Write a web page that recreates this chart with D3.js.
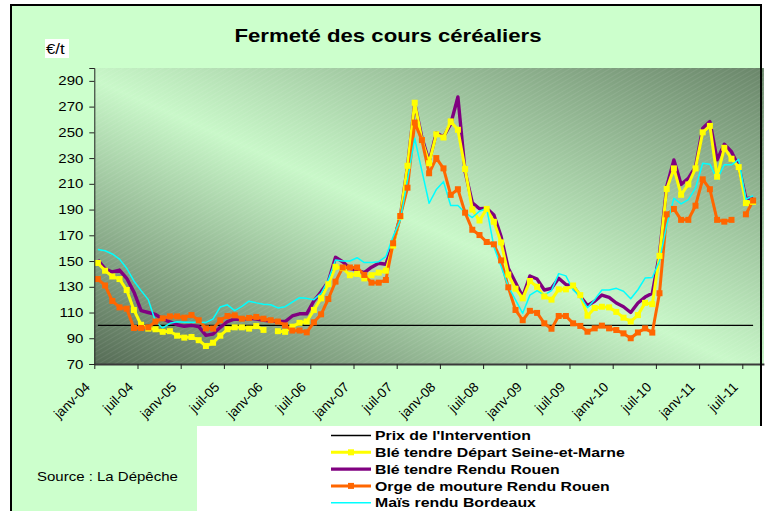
<!DOCTYPE html>
<html>
<head>
<meta charset="utf-8">
<script src="https://cdn.jsdelivr.net/npm/d3@7"></script>
<style>
    body { margin: 0; background: #fff; }
    svg { display: block; font-family: "Liberation Sans", Arial, sans-serif; }
</style>
</head>
<body>
<div id="chart"></div>
<script>
// monthly categories, janv-04 .. sept-11
const monthNames = ["janv", "févr", "mars", "avr", "mai", "juin", "juil", "août", "sept", "oct", "nov", "déc"];
const years = ["04", "05", "06", "07", "08", "09", "10", "11"];
const months = [];
years.forEach(y => monthNames.forEach(m => months.push(m + "-" + y)));
months.splice(93);

const tickLabels = ["janv-04", "juil-04", "janv-05", "juil-05", "janv-06", "juil-06", "janv-07", "juil-07",
    "janv-08", "juil-08", "janv-09", "juil-09", "janv-10", "juil-10", "janv-11", "juil-11"];

const yTicks = [70, 90, 110, 130, 150, 170, 190, 210, 230, 250, 270, 290];

const interventionPrice = 100;

const bleSeineMarne = [148.5, 142.5, 138, 136, 127.5, 112, 100.5, 97.5, 97, 95,
    95.5, 92, 90.5, 91, 88.5, 84, 86.5, 92, 97, 98.5,
    98.5, 97.5, 99.5, 96.5, null, 95.5, 95, 99, 102, 103,
    112, 121, 132, 145.5, 144.5, 139, 140, 136.5, 139, 141,
    142.5, 162, 184.5, 224, 273, 244, 226, 248.5, 246, 258.5,
    252, 221.5, 190, 181.5, 190.5, 180.5, 164.5, 139.5, 128.5, 121,
    134.5, 130, 122.5, 120, 128, 128, 131, 123.5, 107.5, 113.5,
    114.5, 114, 110.5, 106, 103, 108, 117.5, 116.5, 154, 206,
    222, 201.5, 209.5, 222, 250, 255, 215.5, 238, 229.5, 223,
    195, 196];

const bleRouen = [150.8, 144, 141.5, 143, 136.6, 126, 111.4, 110, 108.5, 105,
    102.7, 100.5, 99.3, 100, 99, 92.3, 93.3, 98.5, 103, 105,
    104.7, 105.5, 105, 104, 103.3, 103, 103, 107.3, 109, 109,
    119, 126.2, 134, 152.9, 149.5, 144.4, 142.8, 141, 145.2, 148.3,
    147.5, 163.8, 184.5, 223.4, 272.3, 246, 227.2, 249.5, 246.5, 256.5,
    277.5, 219.5, 195.3, 190.6, 191, 185.8, 169, 144.3, 133.3, 122.3,
    138.4, 136, 127.5, 128.8, 136.6, 131.7, 130.8, 122.6, 115.5, 118.8,
    123.6, 121.8, 117.4, 114.5, 110, 117.4, 122, 125, 155.3, 207.8,
    228.6, 209.5, 214.3, 223.2, 253.2, 258.4, 228.6, 240.8, 235, 223.5,
    198.5, 199.3];

const orgeRouen = [136, 131, 119, 114, 113, 98, 98, 98.5, 103, 105.5,
    107, 107, 106, 108, 104, 97.7, 97.5, 104, 107.3, 107.8,
    105.2, 105.8, 106.6, 105.2, 104, 103, 100, 96, 96, 94.6,
    102.4, 108.6, 120.5, 134, 145, 145, 145, 139.2, 133.2, 133.2,
    135.3, 163.8, 185, 207, 257.6, 244, 218.2, 230, 222, 201.4,
    205.8, 187.6, 174.3, 170.2, 164.8, 163, 150.5, 129.6, 112, 104,
    111.3, 109.7, 101.6, 97.4, 107.3, 107.3, 101.6, 99.6, 95.1, 97.7,
    99.8, 97.7, 96.4, 93.8, 90, 94.5, 97.7, 94.4, 125, 186.3,
    190.5, 182, 182, 193, 213.5, 205.8, 182, 180.6, 182, null,
    186.3, 197];

const maisBordeaux = [159, 158, 155.5, 151.5, 144.4, 134.5, 127, 120, 103, 98,
    101.6, 102.9, 102.5, 102.5, 102.5, 102.3, 105, 114.3, 116, 111.5,
    114.7, 118.8, 117.5, 116.5, 116, 113.6, 114.5, 118, 121.5, 121,
    120, 124.9, 135.3, 150.8, 150, 150, 152.6, 148.8, 148.8, 149.5,
    153.4, 169, 182, 213, 245.4, 220, 194.9, 205.5, 211.7, 193.2,
    193.2, 187.6, 183.8, 188.7, 191, 161.2, 145.7, 130.3, 119.8, 109.4,
    123.5, 127, 123.6, 127, 140.2, 138.5, 127.5, 122.3, 113.8, 120,
    127.5, 127.5, 128.8, 126.5, 120.7, 127.7, 136.8, 137.2, 150, 178,
    198.8, 194.4, 197.7, 206.6, 226, 225.3, 213.4, 224.8, 224.8, 229,
    198, 200.7];

const legendNames = ["Prix de l'Intervention", "Blé tendre Départ Seine-et-Marne", "Blé tendre Rendu Rouen",
    "Orge de mouture Rendu Rouen", "Maïs rendu Bordeaux"];

// the source picture is stretched horizontally, text follows
const SX = 1.2;

class CerealChart {
    constructor(_parentElement) {
        this.parentElement = _parentElement;
        this.styles = [
            {color: "#000000", width: 1.4, marker: false},
            {color: "#ffff00", width: 3, marker: true},
            {color: "#800080", width: 3.4, marker: false},
            {color: "#ff6600", width: 3, marker: true},
            {color: "#00ffff", width: 1.5, marker: false}
        ];
        this.initVis();
    }

    initVis() {
        let vis = this;

        vis.width = 765;
        vis.height = 511;
        vis.plot = {left: 94.3, right: 763.9, top: 68, bottom: 364};

        vis.svg = d3.select("#" + vis.parentElement).append("svg")
            .attr("width", vis.width)
            .attr("height", vis.height);

        let defs = vis.svg.append("defs");
        let grad = defs.append("linearGradient")
            .attr("id", "plotGrad")
            .attr("x1", 0).attr("y1", 1).attr("x2", 1).attr("y2", 0);
        grad.append("stop").attr("offset", "0%").attr("stop-color", "#566c56");
        grad.append("stop").attr("offset", "48%").attr("stop-color", "#c9f8c9");
        grad.append("stop").attr("offset", "100%").attr("stop-color", "#6a866a");

        let pat = defs.append("pattern")
            .attr("id", "stripes")
            .attr("width", 4).attr("height", 4)
            .attr("patternUnits", "userSpaceOnUse")
            .attr("patternTransform", "rotate(-30)");
        pat.append("line")
            .attr("x1", 0).attr("y1", 0).attr("x2", 4).attr("y2", 0)
            .attr("stroke", "#ffffff").attr("stroke-opacity", 0.12).attr("stroke-width", 1.2);

        // chart area
        vis.svg.append("rect")
            .attr("x", 11).attr("y", 5)
            .attr("width", 750).attr("height", 520)
            .attr("fill", "#ccffcc");

        vis.svg.append("rect")
            .attr("x", vis.plot.left).attr("y", vis.plot.top)
            .attr("width", vis.plot.right - vis.plot.left)
            .attr("height", vis.plot.bottom - vis.plot.top)
            .attr("fill", "url(#plotGrad)");
        vis.svg.append("rect")
            .attr("x", vis.plot.left).attr("y", vis.plot.top)
            .attr("width", vis.plot.right - vis.plot.left)
            .attr("height", vis.plot.bottom - vis.plot.top)
            .attr("fill", "url(#stripes)");

        // title
        vis.svg.append("text")
            .attr("transform", `translate(388, 42) scale(${SX}, 1)`)
            .attr("text-anchor", "middle")
            .attr("font-size", 18.5)
            .attr("font-weight", "bold")
            .text("Fermeté des cours céréaliers");

        // unit label
        vis.svg.append("rect")
            .attr("x", 45).attr("y", 39).attr("width", 24).attr("height", 19)
            .attr("fill", "#ffffff");
        vis.svg.append("text")
            .attr("transform", `translate(46, 54) scale(${SX}, 1)`)
            .attr("font-size", 14)
            .text("€/t");

        // scales and axes
        vis.x = d3.scaleLinear()
            .domain([0, months.length])
            .range([vis.plot.left, vis.plot.right]);

        vis.y = d3.scaleLinear()
            .domain([70, 300])
            .range([vis.plot.bottom, vis.plot.top]);

        vis.yAxis = d3.axisLeft(vis.y)
            .tickValues(yTicks)
            .tickSize(5)
            .tickPadding(6);

        vis.xAxis = d3.axisBottom(vis.x)
            .tickValues(tickLabels.map((d, i) => i * 6))
            .tickFormat((d, i) => tickLabels[i])
            .tickSize(5)
            .tickSizeOuter(0);

        vis.lineGroup = vis.svg.append("g").attr("class", "lines");

        vis.yAxisGroup = vis.svg.append("g")
            .attr("class", "y-axis axis")
            .attr("transform", `translate(${vis.plot.left}, 0)`);
        vis.xAxisGroup = vis.svg.append("g")
            .attr("class", "x-axis axis")
            .attr("transform", `translate(0, ${vis.plot.bottom})`);

        vis.wrangleData();
    }

    wrangleData() {
        let vis = this;

        let toPoints = arr => arr.map((v, i) => ({i: i, v: v}));
        vis.displayData = [
            toPoints(bleSeineMarne),
            toPoints(bleRouen),
            toPoints(orgeRouen),
            toPoints(maisBordeaux)
        ];

        vis.updateVis();
    }

    updateVis() {
        let vis = this;

        // intervention price
        let n = bleSeineMarne.length;
        vis.lineGroup.append("line")
            .attr("x1", vis.x(0.5)).attr("x2", vis.x(n - 0.5))
            .attr("y1", vis.y(interventionPrice)).attr("y2", vis.y(interventionPrice))
            .attr("stroke", vis.styles[0].color)
            .attr("stroke-width", vis.styles[0].width);

        let line = d3.line()
            .defined(d => d.v !== null)
            .x(d => vis.x(d.i + 0.5))
            .y(d => vis.y(d.v));

        // drawing order: purple, yellow, orange, cyan
        let order = [1, 0, 2, 3];
        order.forEach(k => {
            let st = vis.styles[k + 1];
            vis.lineGroup.append("path")
                .datum(vis.displayData[k])
                .attr("fill", "none")
                .attr("stroke", st.color)
                .attr("stroke-width", st.width)
                .attr("stroke-linejoin", "round")
                .attr("d", line);
        });

        [0, 2].forEach(k => {
            let st = vis.styles[k + 1];
            vis.lineGroup.append("g")
                .selectAll("rect")
                .data(vis.displayData[k].filter(d => d.v !== null))
                .enter().append("rect")
                .attr("x", d => vis.x(d.i + 0.5) - 3)
                .attr("y", d => vis.y(d.v) - 3)
                .attr("width", 6).attr("height", 6)
                .attr("fill", st.color);
        });

        // axes
        vis.yAxisGroup.call(vis.yAxis);
        vis.yAxisGroup.select(".domain").attr("stroke", "#222");
        vis.yAxisGroup.selectAll(".tick line").attr("stroke", "#222");
        vis.yAxisGroup.selectAll(".tick text")
            .attr("x", -11 / SX)
            .attr("transform", `scale(${SX}, 1)`)
            .attr("font-size", 12.5)
            .attr("fill", "#000")
            .attr("font-family", "Liberation Sans, Arial, sans-serif");

        vis.xAxisGroup.call(vis.xAxis);
        vis.xAxisGroup.select(".domain").attr("stroke", "#3a3a3a").attr("stroke-width", 2);
        vis.xAxisGroup.selectAll(".tick line").attr("stroke", "#222");
        vis.xAxisGroup.selectAll(".tick text")
            .attr("x", null).attr("y", null).attr("dy", null)
            .attr("text-anchor", "end")
            .attr("transform", "translate(-4, 24) rotate(-45)")
            .attr("font-size", 13.5)
            .attr("fill", "#000")
            .attr("font-family", "Liberation Sans, Arial, sans-serif");

        // outer frame
        vis.svg.append("rect")
            .attr("x", 11).attr("y", 5)
            .attr("width", 750).attr("height", 520)
            .attr("fill", "none")
            .attr("stroke", "#000")
            .attr("stroke-width", 2);

        // legend
        vis.svg.append("rect")
            .attr("x", 197).attr("y", 426)
            .attr("width", 568).attr("height", 90)
            .attr("fill", "#ffffff");

        let legend = vis.svg.append("g").attr("class", "legend");
        legendNames.forEach((name, k) => {
            let st = vis.styles[k];
            let cy = 435.5 + k * 16.8;
            legend.append("line")
                .attr("x1", 331).attr("x2", 371)
                .attr("y1", cy).attr("y2", cy)
                .attr("stroke", st.color)
                .attr("stroke-width", st.width);
            if (st.marker) {
                legend.append("rect")
                    .attr("x", 348).attr("y", cy - 3)
                    .attr("width", 6).attr("height", 6)
                    .attr("fill", st.color);
            }
            legend.append("text")
                .attr("transform", `translate(375, ${cy + 4.6}) scale(${SX}, 1)`)
                .attr("font-size", 13.2)
                .attr("font-weight", "bold")
                .text(name);
        });

        vis.svg.append("text")
            .attr("transform", `translate(37, 481) scale(${SX}, 1)`)
            .attr("font-size", 12.5)
            .text("Source : La Dépêche");
    }
}

new CerealChart("chart");
</script>
</body>
</html>
